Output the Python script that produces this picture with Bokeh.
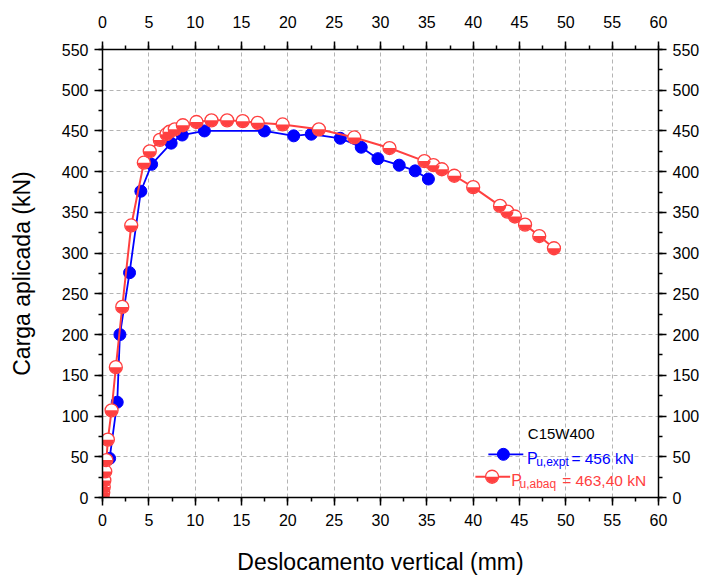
import math
from bokeh.plotting import figure
from bokeh.models import LinearAxis, Range1d, SingleIntervalTicker, Label
from bokeh.embed import file_html
from bokeh.resources import INLINE

# ---- data ----
expt_x = [0.0, 0.77, 1.59, 1.88, 2.92, 4.14, 5.30, 7.41, 8.60, 11.0, 17.47, 20.63,
          22.53, 25.66, 27.92, 29.72, 32.02, 33.74, 35.17]
expt_y = [0, 48, 117, 200, 276, 376, 409, 435, 445, 450, 450, 444,
          446, 441, 430, 416, 408, 401, 391]

abaq_x = [0.02, 0.08, 0.14, 0.2, 0.3, 0.42, 0.58, 0.98, 1.44, 2.13, 3.10,
          4.46, 5.10, 6.19, 6.91, 7.23, 7.80, 8.67, 10.14, 11.76, 13.45,
          15.13, 16.75, 19.44, 23.35, 27.17, 30.97, 34.74, 35.71, 36.62, 37.96,
          40.0, 42.9, 43.69, 44.5, 45.6, 47.13, 48.72]
abaq_y = [0, 6, 13, 21, 32, 46, 71, 107, 160, 234, 334,
          411, 425, 439, 446, 449, 452, 457, 461, 463, 463,
          462, 460, 458, 452, 442, 429, 413, 408, 403, 395,
          381, 358, 351, 345, 335, 321, 306]

x_title = "Deslocamento vertical (mm)"
y_title = "Carga aplicada (kN)"
legend_title = "C15W400"
expt_main, expt_sub, expt_rest = "P", "u,expt", "= 456 kN"
abaq_main, abaq_sub, abaq_rest = "P", "u,abaq", "= 463,40 kN"

BLUE = "#0000ff"
RED = "#ff4040"
FONT = "Liberation Sans"

p = figure(width=702, height=578, x_range=Range1d(0, 60), y_range=Range1d(0, 550),
           output_backend="svg", toolbar_location=None,
           min_border_left=102, min_border_right=44, min_border_top=49,
           min_border_bottom=81)
p.outline_line_color = None
p.background_fill_color = "white"


def style_axis(ax):
    ax.axis_line_width = 1.5
    ax.axis_line_color = "black"
    ax.major_tick_line_width = 1.5
    ax.minor_tick_line_width = 1.5
    ax.major_tick_line_color = "black"
    ax.minor_tick_line_color = "black"
    ax.major_tick_out = 8
    ax.major_tick_in = 0
    ax.minor_tick_out = 4
    ax.minor_tick_in = 0
    ax.major_label_text_font = FONT
    ax.major_label_text_font_size = "16px"
    ax.major_label_text_color = "black"
    ax.major_label_standoff = 6
    ax.axis_label_text_font = FONT
    ax.axis_label_text_font_size = "23px"
    ax.axis_label_text_font_style = "normal"
    ax.axis_label_text_color = "black"


xt = SingleIntervalTicker(interval=5, num_minor_ticks=2)
yt = SingleIntervalTicker(interval=50, num_minor_ticks=2)

bottom = p.below[0]
left = p.left[0]
bottom.ticker = xt
left.ticker = yt
top = LinearAxis(ticker=SingleIntervalTicker(interval=5, num_minor_ticks=2))
right = LinearAxis(ticker=SingleIntervalTicker(interval=50, num_minor_ticks=2))
p.add_layout(top, "above")
p.add_layout(right, "right")
for ax in (bottom, left, top, right):
    style_axis(ax)
top.major_label_standoff = 14
bottom.major_label_standoff = 8
bottom.axis_label = x_title
left.axis_label = y_title
bottom.axis_label_standoff = 20
left.axis_label_standoff = 24

p.xgrid.ticker = xt
p.ygrid.ticker = yt
for g in (p.xgrid, p.ygrid):
    g.grid_line_color = "#b4b4b4"
    g.grid_line_dash = "4 3"
    g.grid_line_width = 1

# ---- series ----
p.line(expt_x, expt_y, line_color=BLUE, line_width=1.8)
p.scatter(expt_x, expt_y, size=12, fill_color=BLUE, line_color=BLUE)

p.line(abaq_x, abaq_y, line_color=RED, line_width=2)
p.scatter(abaq_x, abaq_y, size=13, fill_color="white", line_color=RED, line_width=1.3)
p.wedge(abaq_x, abaq_y, radius=6.2, radius_units="screen", start_angle=math.pi,
        end_angle=2 * math.pi, fill_color=RED, line_color=None)

# ---- custom legend (annotation positions in data units) ----
p.add_layout(Label(x=49.5, y=78, text=legend_title, text_font=FONT,
                   text_font_size="15px", text_color="black",
                   text_align="center", text_baseline="middle"))
# blue sample
p.line([41.64, 45.41], [53, 53], line_color=BLUE, line_width=1.8)
p.scatter([43.26], [53], size=12, fill_color=BLUE, line_color=BLUE)
p.add_layout(Label(x=45.8, y=48, text=expt_main, text_font=FONT, text_font_size="16px",
                   text_color=BLUE, text_baseline="alphabetic"))
p.add_layout(Label(x=46.8, y=43.5, text=expt_sub, text_font=FONT, text_font_size="12px",
                   text_color=BLUE, text_baseline="alphabetic"))
p.add_layout(Label(x=50.6, y=48, text=expt_rest, text_font=FONT, text_font_size="15.5px",
                   text_color=BLUE, text_baseline="alphabetic"))
# red sample
p.line([40.24, 43.99], [25.5, 25.5], line_color=RED, line_width=2)
p.scatter([42.04], [25.5], size=13, fill_color="white", line_color=RED, line_width=1.3)
p.wedge([42.04], [25.5], radius=6.2, radius_units="screen", start_angle=math.pi,
        end_angle=2 * math.pi, fill_color=RED, line_color=None)
p.add_layout(Label(x=44.1, y=21.2, text=abaq_main, text_font=FONT, text_font_size="16px",
                   text_color=RED, text_baseline="alphabetic"))
p.add_layout(Label(x=45.0, y=17, text=abaq_sub, text_font=FONT, text_font_size="12px",
                   text_color=RED, text_baseline="alphabetic"))
p.add_layout(Label(x=49.6, y=21.2, text=abaq_rest, text_font=FONT, text_font_size="15.5px",
                   text_color=RED, text_baseline="alphabetic"))

open("out.html", "w").write(file_html(p, INLINE))
